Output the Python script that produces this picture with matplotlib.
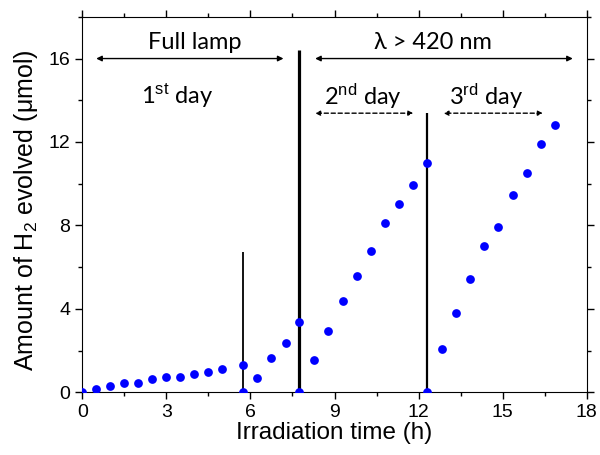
import numpy as np
import matplotlib
matplotlib.use("Agg")
import matplotlib.pyplot as plt
from matplotlib.ticker import MultipleLocator

plt.rcParams['font.family'] = ['Liberation Sans', 'DejaVu Sans']
plt.rcParams['mathtext.fontset'] = 'custom'
plt.rcParams['mathtext.rm'] = 'Liberation Sans'
plt.rcParams['mathtext.it'] = 'Liberation Sans:italic'

# H2 evolved over three days (time in h, amount in umol)
time_h = [0, 0.5, 1.0, 1.5, 2.0, 2.5, 3.0, 3.5, 4.0, 4.5, 5.0, 5.73, 5.73,
          6.25, 6.75, 7.26, 7.75, 7.75,
          8.27, 8.78, 9.29, 9.79, 10.29, 10.8, 11.3, 11.81, 12.31, 12.31,
          12.82, 13.32, 13.84, 14.34, 14.85, 15.35, 15.86, 16.36, 16.87]
h2_umol = [0, 0.16, 0.30, 0.46, 0.43, 0.63, 0.72, 0.74, 0.87, 0.98, 1.13, 1.30, 0,
           0.70, 1.62, 2.38, 3.39, 0,
           1.53, 2.92, 4.36, 5.56, 6.75, 8.13, 9.04, 9.95, 10.98, 0,
           2.07, 3.80, 5.45, 7.02, 7.91, 9.45, 10.51, 11.9, 12.79]

# vertical separators: x position, top value, line width
sep_x = [5.73, 7.75, 12.31]
sep_top = [6.7, 16.4, 13.37]
sep_lw = [1.3, 2.3, 1.6]

fig = plt.figure(figsize=(6, 4.55), dpi=100)
ax = fig.add_axes([0.137, 0.138, 0.841, 0.825])

ax.plot(time_h, h2_umol, 'o', color='#0000ff', markersize=6.3, markeredgewidth=0, zorder=3)
for x, top, lw in zip(sep_x, sep_top, sep_lw):
    ax.vlines(x, 0, top, color='black', linewidth=lw, zorder=2)

ann_font = ['Lato', 'DejaVu Sans']

# solid double arrows
arr = dict(arrowstyle='<|-|>', color='black', lw=1.0, mutation_scale=8, shrinkA=0, shrinkB=0)
ax.annotate('', xy=(0.5, 16), xytext=(7.18, 16), arrowprops=arr)
ax.annotate('', xy=(8.31, 16), xytext=(17.5, 16), arrowprops=arr)
# dashed double arrows
darr = dict(arrowstyle='<|-|>', color='black', lw=1.0, linestyle=(0, (3, 2)),
            mutation_scale=7, shrinkA=0, shrinkB=0)
ax.annotate('', xy=(8.31, 13.38), xytext=(11.81, 13.38), arrowprops=darr)
ax.annotate('', xy=(12.89, 13.38), xytext=(16.43, 13.38), arrowprops=darr)

ax.text(4.0, 16.25, 'Full lamp', fontsize=17, family=ann_font, ha='center', va='bottom')
ax.text(12.5, 16.25, 'λ > 420 nm', fontsize=17, family=ann_font, ha='center', va='bottom')
ax.text(3.4, 14.2, r'1$^{\rm st}$ day', fontsize=17, family=ann_font, ha='center', va='center')
ax.text(10.0, 14.2, r'2$^{\rm nd}$ day', fontsize=17, family=ann_font, ha='center', va='center')
ax.text(14.4, 14.2, r'3$^{\rm rd}$ day', fontsize=17, family=ann_font, ha='center', va='center')

ax.set_xlim(0, 18)
ax.set_ylim(0, 18)
ax.xaxis.set_major_locator(MultipleLocator(3))
ax.xaxis.set_minor_locator(MultipleLocator(1.5))
ax.yaxis.set_major_locator(MultipleLocator(4))
ax.yaxis.set_minor_locator(MultipleLocator(2))
ax.tick_params(which='both', direction='out', top=True, right=True,
               labeltop=False, labelright=False, width=1, labelsize=14)
ax.tick_params(which='major', length=5)
ax.tick_params(which='minor', length=3)

ax.set_xlabel('Irradiation time (h)', fontsize=17.5, labelpad=1)
ax.set_ylabel(r'Amount of H$_2$ evolved (μmol)', fontsize=18)
ax.yaxis.set_label_coords(-0.083, 0.485)

fig.savefig('out.png', dpi=100)
